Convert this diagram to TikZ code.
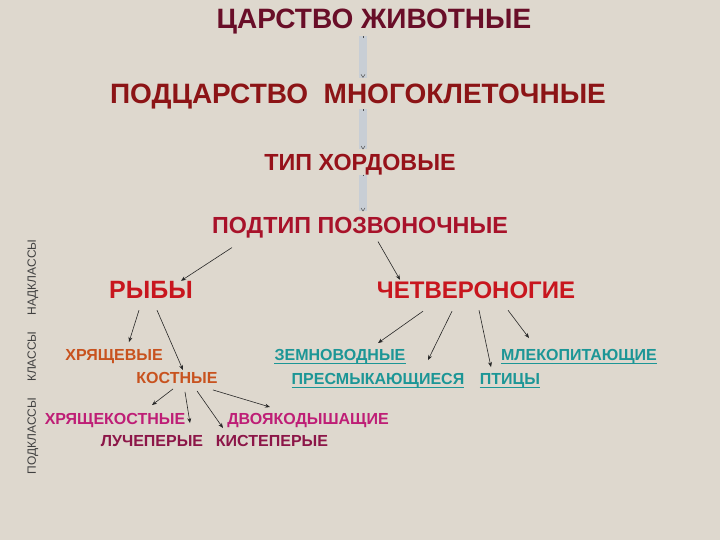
\documentclass[tikz,border=0pt]{standalone}
\usepackage{fontspec}
\setmainfont{Liberation Sans}
\usetikzlibrary{arrows.meta}

\definecolor{paper}{RGB}{222,216,206}
\definecolor{kingcol}{RGB}{105,14,40}
\definecolor{subkcol}{RGB}{140,20,22}
\definecolor{phylcol}{RGB}{150,18,26}
\definecolor{vertcol}{RGB}{168,18,42}
\definecolor{classcol}{RGB}{200,22,30}
\definecolor{fishcol}{RGB}{200,82,30}
\definecolor{magcol}{RGB}{190,30,118}
\definecolor{plumcol}{RGB}{140,22,72}
\definecolor{tealcol}{RGB}{28,150,150}
\definecolor{bandcol}{RGB}{200,206,213}
\newcommand\tsize[1]{\fontsize{#1}{#1}\selectfont}

\begin{document}
\begin{tikzpicture}[x=1pt,y=-1pt,
    taxon/.style={inner sep=0pt, text depth=0pt},
    top/.style={taxon, font=\bfseries\tsize{28}, text height=20pt},
    rank/.style={taxon, font=\bfseries\tsize{23.3}, text height=16.7pt},
    group/.style={taxon, font=\bfseries\tsize{25}, text height=18pt, text=classcol},
    sub/.style={taxon, font=\bfseries\tsize{16}, text height=11.5pt},
    arr/.style={-{Stealth[length=5pt,width=4pt]}, line width=0.6pt, black!85},
    uline/.style={line width=1pt, tealcol},
    band/.style={line width=8pt, bandcol},
    bandtip/.style={line width=0.5pt, black!70, dash pattern=on 1.5pt off 200pt, -{Straight Barb[length=3pt,width=4pt]}}]

   \fill[paper] (0,0) rectangle (720,540);
   \useasboundingbox (0,0) rectangle (720,540);

   % ranks
   \node[top, text=kingcol] (kingdom) at (374,19) {ЦАРСТВО ЖИВОТНЫЕ};
   \node[top, text=subkcol] (subkingdom) at (358,94) {ПОДЦАРСТВО\ \ МНОГОКЛЕТОЧНЫЕ};
   \node[rank, text=phylcol] (phylum) at (360,162) {ТИП ХОРДОВЫЕ};
   \node[rank, text=vertcol] (subphylum) at (360,225) {ПОДТИП ПОЗВОНОЧНЫЕ};
   \node[group] (fish) at (151,289) {РЫБЫ};
   \node[group, font=\bfseries\tsize{24}] (tetrapods) at (476,289) {ЧЕТВЕРОНОГИЕ};

   % fish
   \node[sub, text=fishcol] (cartilag) at (114,355) {ХРЯЩЕВЫЕ};
   \node[sub, text=fishcol] (bony) at (177,378) {КОСТНЫЕ};
   \node[sub, text=magcol] (chondrost) at (115,419) {ХРЯЩЕКОСТНЫЕ};
   \node[sub, text=magcol] (lungfish) at (308,419) {ДВОЯКОДЫШАЩИЕ};
   \node[sub, text=plumcol] (rayfin) at (152,441) {ЛУЧЕПЕРЫЕ};
   \node[sub, text=plumcol] (lobefin) at (272,441) {КИСТЕПЕРЫЕ};

   % tetrapods
   \node[sub, text=tealcol] (amphib) at (340,355) {ЗЕМНОВОДНЫЕ};
   \node[sub, text=tealcol] (reptiles) at (378,379) {ПРЕСМЫКАЮЩИЕСЯ\ };
   \node[sub, text=tealcol] (mammals) at (579,355) {МЛЕКОПИТАЮЩИЕ};
   \node[sub, text=tealcol] (birds) at (510,379) {ПТИЦЫ};
   \foreach \n in {amphib,reptiles,mammals,birds}
      \draw[uline] ([yshift=-2.2pt]\n.south west) -- ([yshift=-2.2pt]\n.south east);

   \node[rotate=90, text=black!75, font=\tsize{12}] (ranklabel) at (33,357)
      {ПОДКЛАССЫ\hspace{16pt}КЛАССЫ\hspace{16pt}НАДКЛАССЫ};

   %bands
   \draw[band] ([shift={(-11,7)}]kingdom.south) -- ([shift={(5,-6)}]subkingdom.north);
   \draw[bandtip] ([shift={(-11,7)}]kingdom.south) -- ([shift={(5,-6)}]subkingdom.north);
   \draw[band] ([shift={(5,5)}]subkingdom.south) -- ([shift={(3,-4)}]phylum.north);
   \draw[bandtip] ([shift={(5,5)}]subkingdom.south) -- ([shift={(3,-4)}]phylum.north);
   \draw[band] ([shift={(3,4)}]phylum.south) -- ([shift={(3,-5)}]subphylum.north);
   \draw[bandtip] ([shift={(3,4)}]phylum.south) -- ([shift={(3,-5)}]subphylum.north);

   %edges
   \draw[arr] ([shift={(-128,14)}]subphylum.south) -- ([shift={(30,1)}]fish.north);
   \draw[arr] ([shift={(18,8)}]subphylum.south) -- ([shift={(-76,0)}]tetrapods.north);
   \draw[arr] ([shift={(-12,12)}]fish.south) -- ([shift={(15,-7)}]cartilag.north);
   \draw[arr] ([shift={(6,12)}]fish.south) -- ([shift={(6,-2)}]bony.north);
   \draw[arr] ([shift={(-4,5)}]bony.south) -- ([shift={(37,-8)}]chondrost.north);
   \draw[arr] ([shift={(8,8)}]bony.south) -- ([shift={(38,-12)}]rayfin.north);
   \draw[arr] ([shift={(20,7)}]bony.south) -- ([shift={(-49,-7)}]lobefin.north);
   \draw[arr] ([shift={(36,6)}]bony.south) -- ([shift={(-38,-6)}]lungfish.north);
   \draw[arr] ([shift={(-53,13)}]tetrapods.south) -- ([shift={(38,-6)}]amphib.north);
   \draw[arr] ([shift={(-24,13)}]tetrapods.south) -- ([shift={(50,-13)}]reptiles.north);
   \draw[arr] ([shift={(3,12)}]tetrapods.south) -- ([shift={(-19,-6)}]birds.north);
   \draw[arr] ([shift={(32,12)}]tetrapods.south) -- ([shift={(-50,-11)}]mammals.north);

\end{tikzpicture}
\end{document}
